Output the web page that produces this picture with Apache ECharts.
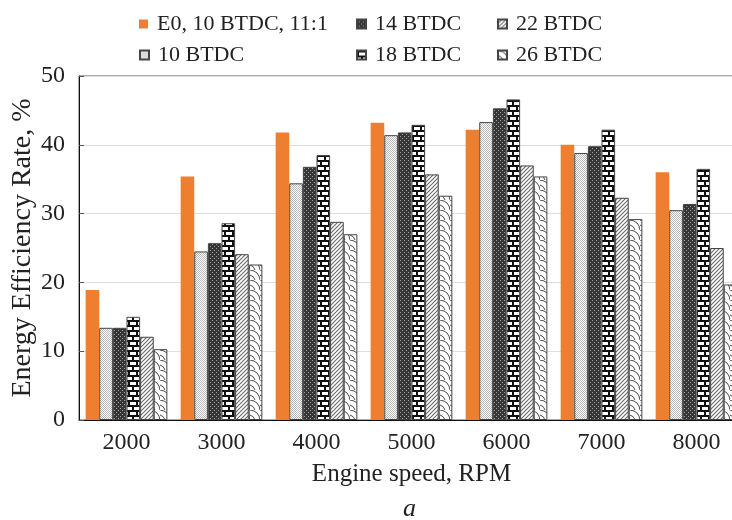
<!DOCTYPE html>
<html>
<head>
<meta charset="utf-8">
<script src="https://cdn.jsdelivr.net/npm/echarts@6/dist/echarts.min.js"></script>
<style>
  html, body { margin: 0; padding: 0; background: #fff; }
  #main { width: 732px; height: 520px; }
</style>
</head>
<body>
<div id="main"></div>
<script>
// 数据
const speeds = ['2000', '3000', '4000', '5000', '6000', '7000', '8000']
const seriesNames = ['E0, 10 BTDC, 11:1', '10 BTDC', '14 BTDC', '18 BTDC', '22 BTDC', '26 BTDC']
const e0Values = [18.9, 35.4, 41.8, 43.2, 42.2, 40.0, 36.0]
const btdc10 = [13.4, 24.5, 34.4, 41.4, 43.3, 38.8, 30.5]
const btdc14 = [13.4, 25.7, 36.8, 41.8, 45.3, 39.8, 31.4]
const btdc18 = [15.0, 28.6, 38.5, 42.9, 46.6, 42.2, 36.5]
const btdc22 = [12.1, 24.1, 28.8, 35.7, 37.0, 32.3, 25.0]
const btdc26 = [10.3, 22.6, 27.0, 32.6, 35.4, 29.2, 19.7]
const yTicks = [0, 10, 20, 30, 40, 50]

const FONT = 'Liberation Serif'

// 画填充图案
const makeTile = (w, h, draw) => {
  const c = document.createElement('canvas')
  c.width = w
  c.height = h
  const ctx = c.getContext('2d')
  draw(ctx)
  return { image: c, repeat: 'repeat' }
}

const dotsLight = makeTile(2, 2, (ctx) => {
  ctx.fillStyle = '#ffffff'
  ctx.fillRect(0, 0, 2, 2)
  ctx.fillStyle = '#b8b8b8'
  ctx.fillRect(0, 0, 1, 1)
  ctx.fillRect(1, 1, 1, 1)
})

const dotsDark = makeTile(4, 4, (ctx) => {
  ctx.fillStyle = '#363636'
  ctx.fillRect(0, 0, 4, 4)
  ctx.fillStyle = '#a0a0a0'
  ctx.fillRect(0, 0, 1, 1)
  ctx.fillRect(2, 2, 1, 1)
})

const bricks = makeTile(8, 10, (ctx) => {
  ctx.fillStyle = '#ffffff'
  ctx.fillRect(0, 0, 8, 10)
  ctx.fillStyle = '#111111'
  ctx.fillRect(0, 0, 8, 2)
  ctx.fillRect(0, 5, 8, 2)
  ctx.fillRect(0, 2, 2, 3)
  ctx.fillRect(4, 7, 2, 3)
})

const hatch = makeTile(4, 4, (ctx) => {
  ctx.fillStyle = '#ffffff'
  ctx.fillRect(0, 0, 4, 4)
  ctx.strokeStyle = '#6a6a6a'
  ctx.lineWidth = 1.1
  ctx.beginPath()
  ctx.moveTo(-1, 5); ctx.lineTo(5, -1)
  ctx.moveTo(-1, 1); ctx.lineTo(1, -1)
  ctx.moveTo(3, 5); ctx.lineTo(5, 3)
  ctx.stroke()
})

// 鱼鳞纹
const shingle = makeTile(10, 10, (ctx) => {
  ctx.fillStyle = '#ffffff'
  ctx.fillRect(0, 0, 10, 10)
  ctx.strokeStyle = '#4a4a4a'
  ctx.lineWidth = 1
  ctx.beginPath()
  ctx.moveTo(0, 0)
  ctx.quadraticCurveTo(9, 1, 10, 10)
  ctx.moveTo(0, 5)
  ctx.quadraticCurveTo(4, 6, 5, 10)
  ctx.stroke()
})

const fills = ['#ee7f31', dotsLight, dotsDark, bricks, hatch, shingle]
const values = [e0Values, btdc10, btdc14, btdc18, btdc22, btdc26]

const myChart = echarts.init(document.getElementById('main'))

// 图例位置 (每项单独放)
const legendPos = [
  [139, 12], [139, 43], [356, 12], [356, 43], [497, 12], [497, 43]
]

const option = {
  animation: false,
  title: {
    text: 'a',
    left: 403,
    top: 496,
    padding: 0,
    textStyle: { fontFamily: FONT, fontStyle: 'italic', fontWeight: 'normal', fontSize: 26, color: '#222' }
  },
  legend: seriesNames.map((n, i) => ({
    data: [n],
    left: legendPos[i][0],
    top: legendPos[i][1],
    padding: 0,
    itemWidth: 9,
    itemHeight: 9,
    icon: 'rect',
    selectedMode: false,
    textStyle: {
      fontFamily: FONT,
      fontSize: 22,
      color: '#222',
      lineHeight: 24,
      padding: [0, 0, 0, 4]
    }
  })),
  grid: {
    left: 79,
    top: 76,
    width: 665,
    height: 344,
    outerBoundsMode: 'none',
    containLabel: false,
    show: true,
    borderColor: '#555',
    borderWidth: 1
  },
  xAxis: {
    type: 'category',
    data: speeds,
    name: 'Engine speed, RPM',
    nameLocation: 'middle',
    nameGap: 42,
    nameMoveOverlap: false,
    nameTextStyle: { fontFamily: FONT, fontSize: 25, color: '#222' },
    axisLine: { lineStyle: { color: '#111', width: 1 } },
    axisTick: { alignWithLabel: true, length: 7, lineStyle: { color: '#777' } },
    axisLabel: { fontFamily: FONT, fontSize: 24, color: '#222', margin: 11 }
  },
  yAxis: {
    type: 'value',
    min: 0,
    max: 50,
    interval: 10,
    name: 'Energy Efficiency Rate, %',
    nameLocation: 'middle',
    nameGap: 42,
    nameMoveOverlap: false,
    nameTextStyle: { fontFamily: FONT, fontSize: 28, color: '#222' },
    axisLine: { show: true, lineStyle: { color: '#111', width: 1 } },
    axisTick: { show: true, inside: true, length: 5, lineStyle: { color: '#555' } },
    axisLabel: {
      fontFamily: FONT, fontSize: 24, color: '#222', margin: 14,
      formatter: (v) => (yTicks.includes(v) ? String(v) : '')
    },
    splitLine: { lineStyle: { color: '#dedede' } }
  },
  series: seriesNames.map((n, i) => ({
    name: n,
    type: 'bar',
    data: values[i],
    barGap: '0%',
    barCategoryGap: '14%',
    itemStyle: i === 0
      ? { color: fills[i] }
      : { color: fills[i], borderColor: '#444', borderWidth: 1 }
  }))
}
myChart.setOption(option)
</script>
</body>
</html>
